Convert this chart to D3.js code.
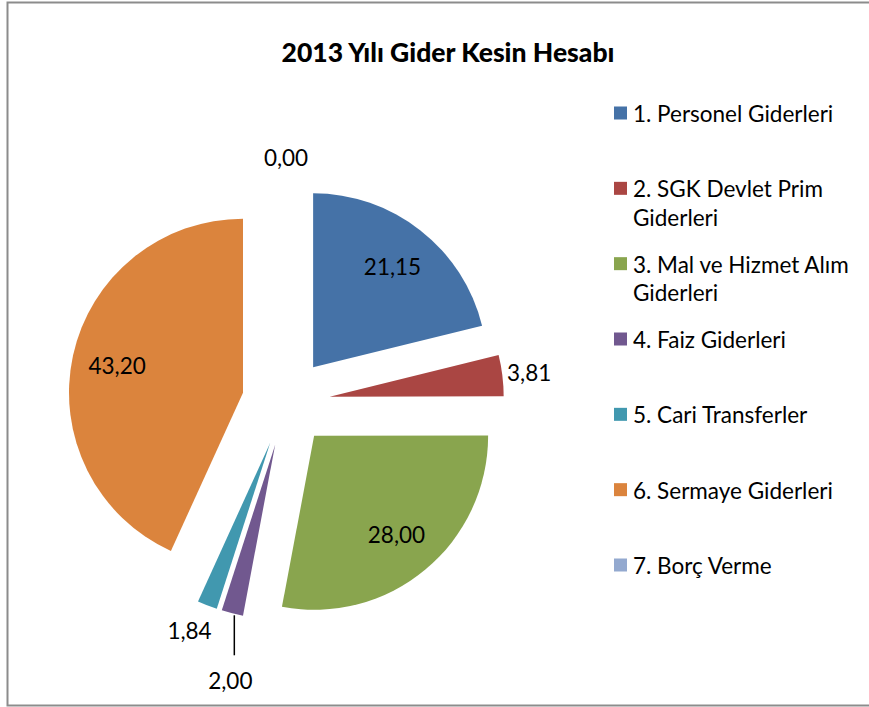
<!DOCTYPE html>
<html>
<head>
<meta charset="utf-8">
<script src="https://cdn.jsdelivr.net/npm/d3@7"></script>
<style>
  html, body { margin: 0; padding: 0; background: #fff; }
  svg text { font-family: Lato, "Open Sans", sans-serif; fill: #000; }
</style>
</head>
<body>
<svg id="chart" width="869" height="707"></svg>
<script>
const title = "2013 Yılı Gider Kesin Hesabı";
const categories = [
  "1. Personel Giderleri",
  "2. SGK Devlet Prim Giderleri",
  "3. Mal ve Hizmet Alım Giderleri",
  "4. Faiz Giderleri",
  "5. Cari Transferler",
  "6. Sermaye Giderleri",
  "7. Borç Verme"
];
const values = [21.15, 3.81, 28.00, 2.00, 1.84, 43.20, 0.00];
const colors = ["#4572A7", "#AA4643", "#89A54E", "#71588F", "#4198AF", "#DB843D", "#93A9CF"];

const W = 869, H = 707;
const svg = d3.select("#chart");
const fmt = d3.formatLocale({decimal: ",", thousands: ".", grouping: [3], currency: ["", ""]}).format(".2f");

// frame
svg.append("rect").attr("x", 7.5).attr("y", 2.5).attr("width", W + 10).attr("height", 703)
  .attr("fill", "none").attr("stroke", "#8c8c8c").attr("stroke-width", 2);

// title
svg.append("text").attr("x", 448).attr("y", 62).attr("text-anchor", "middle")
  .attr("font-size", 26.5).attr("font-weight", 900).text(title);

// pie
const cx = 286, cy = 402, R = 174, explode = 44;
const pie = d3.pie().sort(null).value(d => d)(values);
const arc = d3.arc().innerRadius(0).outerRadius(R);
const g = svg.append("g").attr("transform", `translate(${cx},${cy})`);

function dir(a) { return [Math.sin(a), -Math.cos(a)]; }
pie.forEach(p => { p.mid = (p.startAngle + p.endAngle) / 2; const d = dir(p.mid); p.ox = d[0] * explode; p.oy = d[1] * explode; });

g.selectAll("path.slice").data(pie).join("path")
  .attr("class", "slice")
  .attr("transform", p => `translate(${p.ox},${p.oy})`)
  .attr("d", arc)
  .attr("fill", (p, i) => colors[i]);

// labels
const fs = 22.5;
const labelData = pie.map((p, i) => {
  const d = dir(p.mid);
  const inside = p.value > 10;
  const r = inside ? 0.74 * R : R + 27;
  return { i, p, inside, x: p.ox + d[0] * r, y: p.oy + d[1] * r,
           ex: p.ox + d[0] * R, ey: p.oy + d[1] * R, text: fmt(p.value), leader: false };
});
// simple collision: if two outside labels overlap, push the earlier one straight down with a leader line
const outside = labelData.filter(l => !l.inside);
for (let a = 0; a < outside.length; a++) {
  for (let b = a + 1; b < outside.length; b++) {
    const A = outside[a], B = outside[b];
    if (Math.abs(A.x - B.x) < 48 && Math.abs(A.y - B.y) < 28) {
      A.leader = true;
      A.x = A.ex - 2;
      A.y = A.ey + 67;
      B.x -= 8;
    }
  }
}
g.selectAll("line.leader").data(labelData.filter(l => l.leader)).join("line")
  .attr("class", "leader")
  .attr("x1", l => l.ex + 2).attr("y1", l => l.ey + 2)
  .attr("x2", l => l.ex + 2).attr("y2", l => l.ey + 42)
  .attr("stroke", "#000").attr("stroke-width", 1.5);
g.selectAll("text.lbl").data(labelData).join("text")
  .attr("class", "lbl")
  .attr("x", l => l.x).attr("y", l => l.y)
  .attr("text-anchor", "middle").attr("dominant-baseline", "central")
  .attr("font-size", fs).text(l => l.text);

// legend
const ly = d3.scalePoint().domain(d3.range(categories.length)).range([113, 565]);
const lg = svg.append("g");
categories.forEach((c, i) => {
  const y = ly(i);
  lg.append("rect").attr("x", 614).attr("y", y - 6.5).attr("width", 13).attr("height", 13).attr("fill", colors[i]);
  const t = lg.append("text").attr("x", 633).attr("y", y).attr("font-size", fs).attr("dominant-baseline", "central");
  const words = c.split(" ");
  let line = [];
  let ts = t.append("tspan").attr("x", 633).attr("dy", 0);
  words.forEach(w => {
    line.push(w);
    ts.text(line.join(" "));
    if (ts.node().getComputedTextLength() > 232 && line.length > 1) {
      line.pop();
      ts.text(line.join(" "));
      line = [w];
      ts = t.append("tspan").attr("x", 633).attr("dy", 28.5).text(w);
    }
  });
});
</script>
</body>
</html>
